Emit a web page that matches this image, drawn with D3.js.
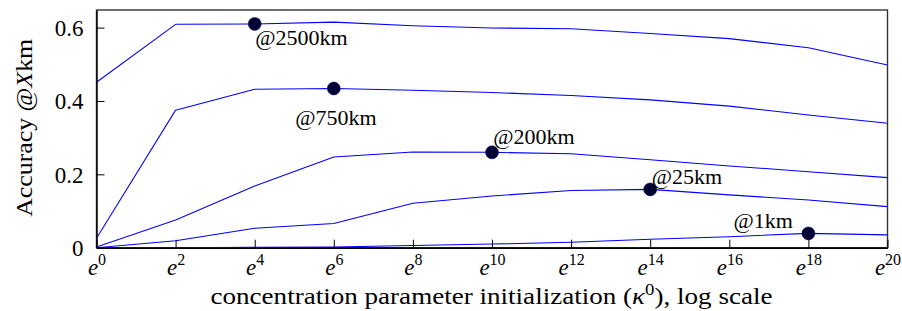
<!DOCTYPE html>
<html>
<head>
<meta charset="utf-8">
<script src="https://cdn.jsdelivr.net/npm/d3@7"></script>
<style>
  html, body { margin: 0; padding: 0; background: #fff; }
  svg { display: block; }
  text { font-family: "Liberation Serif", "DejaVu Serif", serif; fill: #000; }
</style>
</head>
<body>
<svg id="chart" width="902" height="311"></svg>
<script>
// ---- data ----
const exponents = [0, 2, 4, 6, 8, 10, 12, 14, 16, 18, 20];
const acc2500 = [0.451, 0.609, 0.610, 0.615, 0.605, 0.599, 0.597, 0.584, 0.570, 0.545, 0.498];
const acc750  = [0.026, 0.375, 0.432, 0.434, 0.429, 0.423, 0.415, 0.403, 0.386, 0.362, 0.339];
const acc200  = [0.002, 0.0755, 0.168, 0.247, 0.261, 0.260, 0.256, 0.240, 0.223, 0.207, 0.191];
const acc25   = [0.000, 0.019, 0.053, 0.066, 0.121, 0.141, 0.156, 0.159, 0.144, 0.130, 0.112];
const acc1    = [0.000, 0.000, 0.001, 0.002, 0.006, 0.010, 0.015, 0.023, 0.030, 0.039, 0.035];
const seriesNames = ["@2500km", "@750km", "@200km", "@25km", "@1km"];
const seriesValues = [acc2500, acc750, acc200, acc25, acc1];
const highlightExp = [4, 6, 10, 14, 18];
const xTickExps = [0, 2, 4, 6, 8, 10, 12, 14, 16, 18, 20];
const yTicks = [0, 0.2, 0.4, 0.6];
const yTickLabels = ["0", "0.2", "0.4", "0.6"];

// ---- layout (not data) ----
const W = 902, H = 311;
const margin = { left: 96.5, top: 10, right: 14.5, bottom: 63.3 };
const labelPlacement = [
  { dx: 0.5,   dy: 21,   anchor: "start" },
  { dx: -38.5, dy: 36.5, anchor: "start" },
  { dx: 1.2,   dy: -8.5, anchor: "start" },
  { dx: 1.5,   dy: -5.5, anchor: "start" },
  { dx: -15.5, dy: -5.7, anchor: "end" }
];
const FS = 22;

const svg = d3.select("#chart");
const x = d3.scaleLinear().domain([0, 20]).range([margin.left, W - margin.right]);
const y = d3.scaleLinear().domain([0, 0.648]).range([H - margin.bottom, margin.top]);

const plotL = x.range()[0], plotR = x.range()[1];
const plotT = y.range()[1], plotB = y.range()[0];

svg.append("defs").append("clipPath").attr("id", "clip")
  .append("rect").attr("x", plotL).attr("y", plotT - 1)
  .attr("width", plotR - plotL).attr("height", plotB - plotT + 2);

// lines
const line = d3.line().x((d, i) => x(exponents[i])).y(d => y(d));
const gLines = svg.append("g").attr("clip-path", "url(#clip)");
seriesValues.forEach(vals => {
  gLines.append("path").datum(vals)
    .attr("d", line)
    .attr("fill", "none")
    .attr("stroke", "#0000ff")
    .attr("stroke-width", 1.05)
    .attr("stroke-linejoin", "round");
});

// frame (top/right)
svg.append("rect")
  .attr("x", plotL).attr("y", plotT)
  .attr("width", plotR - plotL).attr("height", plotB - plotT)
  .attr("fill", "none").attr("stroke", "#333").attr("stroke-width", 1.4);

// x axis
const xAxis = d3.axisBottom(x).tickValues(xTickExps).tickSizeInner(-8).tickSizeOuter(0).tickFormat("");
const gx = svg.append("g").attr("transform", `translate(0,${plotB})`).call(xAxis);
gx.select(".domain").attr("stroke", "#000").attr("stroke-width", 1.4);
gx.selectAll(".tick line").attr("stroke", "#000").attr("stroke-width", 1);
gx.selectAll(".tick").each(function (d) {
  const t = d3.select(this).append("text")
    .attr("y", 27).attr("x", 0)
    .attr("text-anchor", "middle")
    .style("font-size", "23px");
  t.append("tspan").style("font-style", "italic").text("e");
  t.append("tspan").attr("dy", -9.5).style("font-size", "16px").text(d);
});

// y axis
const yAxis = d3.axisLeft(y).tickValues(yTicks).tickSizeInner(-8).tickSizeOuter(0)
  .tickFormat((d, i) => yTickLabels[i]);
const gy = svg.append("g").attr("transform", `translate(${plotL},0)`).call(yAxis);
gy.select(".domain").attr("stroke", "#000").attr("stroke-width", 1.4);
gy.selectAll(".tick line").attr("stroke", "#000").attr("stroke-width", 1);
gy.selectAll(".tick text")
  .attr("x", -13).attr("dy", "0.34em")
  .style("font-family", "'Liberation Serif', serif")
  .style("font-size", "23px").attr("fill", "#000");

// markers + labels
seriesValues.forEach((vals, k) => {
  const idx = exponents.indexOf(highlightExp[k]);
  const cx = x(exponents[idx]), cy = y(vals[idx]);
  svg.append("circle").attr("cx", cx).attr("cy", cy).attr("r", 6.5)
    .attr("fill", "#000033").attr("stroke", "#000066").attr("stroke-width", 0.5);
  const p = labelPlacement[k];
  svg.append("text")
    .attr("x", cx + p.dx).attr("y", cy + p.dy)
    .attr("text-anchor", p.anchor)
    .style("font-size", FS + "px")
    .text(seriesNames[k]);
});

// axis titles
const xt = svg.append("text")
  .attr("x", 491.5).attr("y", 304)
  .attr("text-anchor", "middle")
  .attr("textLength", 562)
  .attr("lengthAdjust", "spacingAndGlyphs")
  .style("font-size", "23px");
xt.append("tspan").text("concentration parameter initialization (");
xt.append("tspan").style("font-style", "italic").text("κ");
xt.append("tspan").attr("dy", -9.5).style("font-size", "16px").text("0");
xt.append("tspan").attr("dy", 9.5).text("), log scale");

const yt = svg.append("text")
  .attr("transform", `translate(31.5,${(plotT + plotB) / 2 - 1}) rotate(-90)`)
  .attr("text-anchor", "middle")
  .attr("textLength", 178)
  .attr("lengthAdjust", "spacingAndGlyphs")
  .style("font-size", "23px");
yt.append("tspan").text("Accuracy @");
yt.append("tspan").style("font-style", "italic").text("X");
yt.append("tspan").text("km");
</script>
</body>
</html>
